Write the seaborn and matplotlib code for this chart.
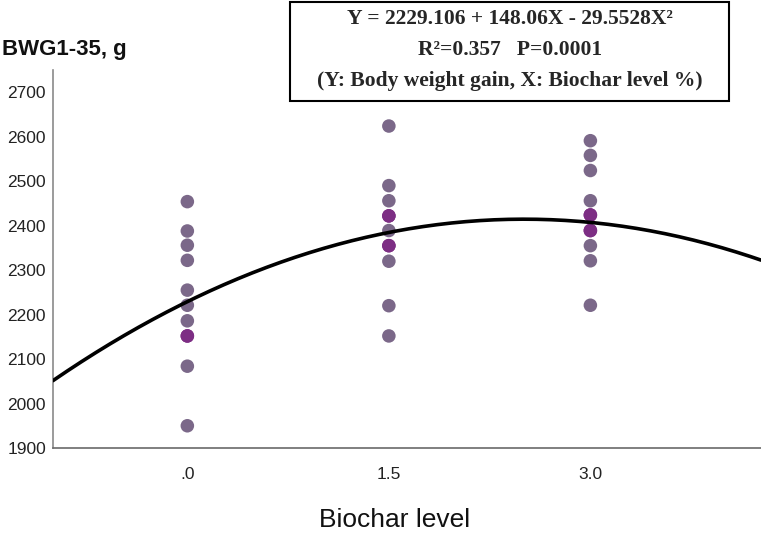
import numpy as np
import pandas as pd
import matplotlib.pyplot as plt
import seaborn as sns
from matplotlib.patches import Rectangle

# Biochar level (%) and body weight gain (g), one entry per dot (repeats = overlapping dots)
level_0 = [2454, 2388, 2356, 2322, 2255, 2221, 2186, 2152, 2152, 2084, 1950]
level_15 = [2624, 2490, 2456, 2422, 2422, 2389, 2355, 2355, 2320, 2220, 2152]
level_30 = [2591, 2558, 2524, 2456, 2424, 2424, 2389, 2389, 2355, 2321, 2221]
levels = [0.0, 1.5, 3.0]
tick_labels = [".0", "1.5", "3.0"]

# quadratic fit from the equation box: Y = b0 + b1*X + b2*X^2
coef = [2229.106, 148.06, -29.5528]

rows = []
for lv, vals in zip(levels, [level_0, level_15, level_30]):
    for v in vals:
        rows.append({"level": lv, "bwg": v})
df = pd.DataFrame(rows)
# overlapping points show darker in the original
df["n"] = df.groupby(["level", "bwg"])["bwg"].transform("size")

sns.set_style("white")
plt.rcParams["font.family"] = ["Liberation Sans", "DejaVu Sans"]

fig = plt.figure(figsize=(7.61, 5.36), dpi=100)
ax = fig.add_axes([53 / 761, 1 - 448 / 536, 1 - 53 / 761, (448 - 70) / 536])

sns.scatterplot(data=df, x="level", y="bwg", hue="n",
                palette={1: "#7b6889", 2: "#7d2e84"},
                s=95, edgecolor="none", legend=False, ax=ax, zorder=2)

x_fit = np.linspace(-1.0, 4.27, 200)
y_fit = coef[0] + coef[1] * x_fit + coef[2] * x_fit ** 2
sns.lineplot(x=x_fit, y=y_fit, color="black", linewidth=2.6, ax=ax, zorder=3)

ax.set_xlim(-1.0, 4.27)
ax.set_ylim(1900, 2750)
ax.set_xticks(levels)
ax.set_xticklabels(tick_labels)
ax.set_yticks(range(1900, 2701, 100))
ax.tick_params(axis="both", length=0, labelsize=12.5, colors="#222222")
ax.tick_params(axis="x", pad=14)
ax.tick_params(axis="y", pad=5)
ax.set_xlabel("")
ax.set_ylabel("")

for side in ["top", "right"]:
    ax.spines[side].set_visible(False)
ax.spines["left"].set_color("#8a8a8a")
ax.spines["bottom"].set_color("#6a6a6a")
ax.spines["left"].set_linewidth(1.2)
ax.spines["bottom"].set_linewidth(1.2)

fig.text(2 / 761, 1 - 50 / 536, "BWG1-35, g", fontsize=16, fontweight="bold",
         ha="left", va="center", color="#111111")
fig.text(395 / 761, 1 - 520 / 536, "Biochar level", fontsize=19,
         ha="center", va="center", color="#111111")

# equation box
fig.patches.append(Rectangle((290 / 761, 1 - 101 / 536), 439 / 761, 99 / 536,
                             transform=fig.transFigure, fill=False,
                             edgecolor="black", linewidth=1.5))
serif = ["Liberation Serif", "DejaVu Serif"]
fig.text(510 / 761, 1 - 19 / 536, "Y = 2229.106 + 148.06X - 29.5528X²",
         family=serif, fontsize=15.5, fontweight="bold", ha="center", va="center")
fig.text(510 / 761, 1 - 50 / 536, "R²=0.357   P=0.0001",
         family=serif, fontsize=15.5, fontweight="bold", ha="center", va="center")
fig.text(510 / 761, 1 - 81 / 536, "(Y: Body weight gain, X: Biochar level %)",
         family=serif, fontsize=15.5, fontweight="bold", ha="center", va="center")

fig.savefig("out.png", dpi=100)
